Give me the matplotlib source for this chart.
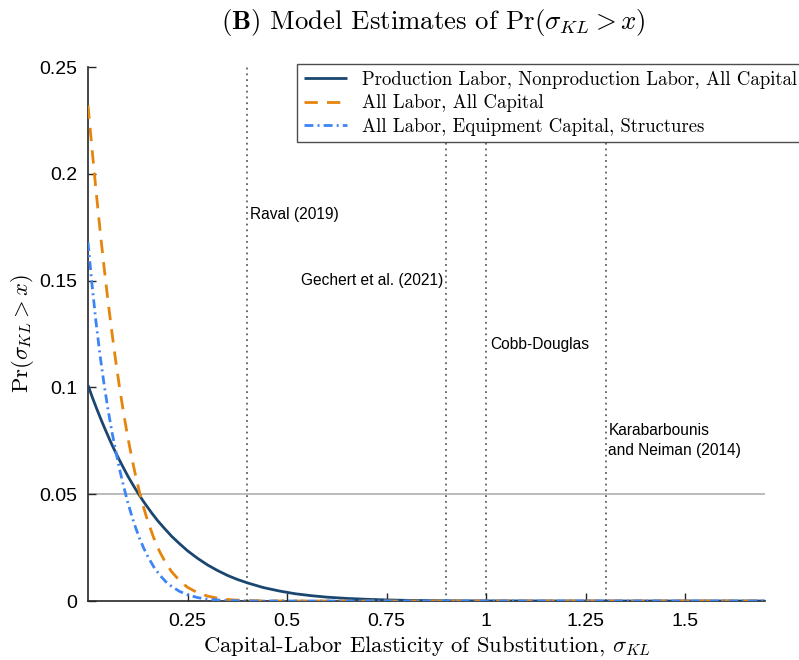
import matplotlib
matplotlib.use("Agg")
import matplotlib.pyplot as plt

plt.rcParams['mathtext.fontset'] = 'cm'
plt.rcParams['axes.unicode_minus'] = False

# ---- data ----
x_prod = [0, 0.01, 0.02, 0.03, 0.04, 0.05, 0.06, 0.07, 0.08, 0.09, 0.10, 0.11, 0.12, 0.13,
          0.14, 0.15, 0.16, 0.175, 0.19, 0.21, 0.23, 0.25, 0.275, 0.30, 0.325, 0.35, 0.375,
          0.40, 0.44, 0.48, 0.52, 0.56, 0.60, 0.65, 0.70, 0.75, 0.80, 0.90, 1.0, 1.2, 1.7]
y_prod = [0.101, 0.0958, 0.0909, 0.0862, 0.0817, 0.0774, 0.0732, 0.0693, 0.0656, 0.0620,
          0.0585, 0.0553, 0.0522, 0.0492, 0.0464, 0.0438, 0.0412, 0.0376, 0.0344, 0.0303,
          0.0268, 0.0235, 0.0200, 0.0169, 0.0143, 0.0120, 0.0101, 0.0085, 0.0063, 0.0047,
          0.0034, 0.0025, 0.0018, 0.0012, 0.0008, 0.0005, 0.0003, 0.0001, 0.00005, 0.0, 0.0]

x_all = [0, 0.01, 0.02, 0.03, 0.04, 0.05, 0.06, 0.07, 0.08, 0.09, 0.10, 0.11, 0.12, 0.13,
         0.14, 0.15, 0.165, 0.18, 0.195, 0.21, 0.23, 0.25, 0.275, 0.30, 0.33, 0.36, 0.40,
         0.45, 0.5, 1.7]
y_all = [0.232, 0.2118, 0.1925, 0.1741, 0.1569, 0.1408, 0.1258, 0.1118, 0.0990, 0.0873,
         0.0766, 0.0670, 0.0583, 0.0505, 0.0436, 0.0374, 0.0296, 0.0231, 0.0179, 0.0137,
         0.0095, 0.0064, 0.0039, 0.0023, 0.00115, 0.00056, 0.0002, 0.00006, 0.0, 0.0]

x_eq = [0, 0.01, 0.02, 0.03, 0.04, 0.05, 0.06, 0.07, 0.08, 0.09, 0.10, 0.11, 0.12, 0.13,
        0.14, 0.15, 0.165, 0.18, 0.195, 0.21, 0.23, 0.25, 0.275, 0.30, 0.33, 0.36, 0.40,
        0.45, 1.7]
y_eq = [0.168, 0.1483, 0.1308, 0.1154, 0.1019, 0.0899, 0.0793, 0.0698, 0.0611, 0.0533,
        0.0461, 0.0398, 0.0341, 0.0291, 0.0247, 0.0209, 0.0160, 0.0122, 0.0091, 0.0068,
        0.0045, 0.0029, 0.0016, 0.00088, 0.00041, 0.00018, 0.00005, 0.0, 0.0]

series_labels = ["Production Labor, Nonproduction Labor, All Capital",
                 "All Labor, All Capital",
                 "All Labor, Equipment Capital, Structures"]

ref_x = [0.4, 0.9, 1.0, 1.3]
ref_labels = ["Raval (2019)", "Gechert et al. (2021)", "Cobb-Douglas",
              "Karabarbounis\nand Neiman (2014)"]
ref_label_y = [0.181, 0.150, 0.120, 0.075]
threshold = 0.05

xticks = [0.25, 0.5, 0.75, 1.0, 1.25, 1.5]
xticklabels = ["0.25", "0.5", "0.75", "1", "1.25", "1.5"]
yticks = [0, 0.05, 0.1, 0.15, 0.2, 0.25]
yticklabels = ["0", "0.05", "0.1", "0.15", "0.2", "0.25"]

# ---- figure ----
fig = plt.figure(figsize=(7.99, 6.6), dpi=100)
ax = fig.add_axes([88/799, 59/660, (765-88)/799, (601-67)/660])

c_prod = "#1a4670"
c_all = "#e5850b"
c_eq = "#3d85f5"

ax.axhline(threshold, color="#a8a8a8", lw=1.1, zorder=1)
for xv in ref_x:
    ax.axvline(xv, color="#606060", lw=1.3, linestyle=(0, (1, 2.2)), zorder=1)

l1, = ax.plot(x_prod, y_prod, color=c_prod, lw=2.0, solid_capstyle='butt', zorder=3,
              label=series_labels[0])
l2, = ax.plot(x_all, y_all, color=c_all, lw=2.0, dashes=(4.8, 3.3), zorder=4,
              label=series_labels[1])
l3, = ax.plot(x_eq, y_eq, color=c_eq, lw=2.0, dashes=(3.2, 1.5, 0.7, 1.5), zorder=5,
              label=series_labels[2])

ann_font = dict(family="Liberation Sans", fontsize=11.2, color="black")
ax.text(ref_x[0] + 0.007, ref_label_y[0], ref_labels[0], ha="left", va="center", **ann_font)
ax.text(ref_x[1] - 0.008, ref_label_y[1], ref_labels[1], ha="right", va="center", **ann_font)
ax.text(ref_x[2] + 0.01, ref_label_y[2], ref_labels[2], ha="left", va="center", **ann_font)
ax.text(ref_x[3] + 0.007, ref_label_y[3], ref_labels[3], ha="left", va="center",
        linespacing=1.45, **ann_font)

ax.set_xlim(0, 1.7)
ax.set_ylim(0, 0.25)
ax.set_xticks(xticks)
ax.set_xticklabels(xticklabels)
ax.set_yticks(yticks)
ax.set_yticklabels(yticklabels)
for lab in ax.get_xticklabels() + ax.get_yticklabels():
    lab.set_family("Liberation Sans")
    lab.set_fontsize(14)
ax.tick_params(direction="in", length=6, width=1.0, color="#262626")
ax.tick_params(axis="y", pad=8)
ax.tick_params(axis="x", pad=9)
ax.spines["top"].set_visible(False)
ax.spines["right"].set_visible(False)
for s in ("left", "bottom"):
    ax.spines[s].set_linewidth(1.2)
    ax.spines[s].set_color("#262626")

ax.set_xlabel(r"Capital-Labor Elasticity of Substitution, $\sigma_{KL}$",
              family="cmr10", fontsize=16.3, labelpad=3)
ax.set_ylabel(r"Pr$(\sigma_{KL} > x)$", family="cmr10", fontsize=16.3, labelpad=2)

fig.text(433/799, 1 - 22/660, r"$\mathbf{(B)}$ Model Estimates of Pr$(\sigma_{KL} > x)$",
         family="cmr10", fontsize=19.3, ha="center", va="center")

leg = fig.legend(handles=[l1, l2, l3], loc="upper left",
                 bbox_to_anchor=(297/799, 1 - 64/660), bbox_transform=fig.transFigure,
                 prop={"family": "cmr10", "size": 13.5}, frameon=True, fancybox=False,
                 edgecolor="#4d4d4d", framealpha=1, borderpad=0.35, labelspacing=0.3,
                 handlelength=2.3, handletextpad=0.8, borderaxespad=0)
leg.get_frame().set_linewidth(1.0)

fig.savefig("out.png", dpi=100)
